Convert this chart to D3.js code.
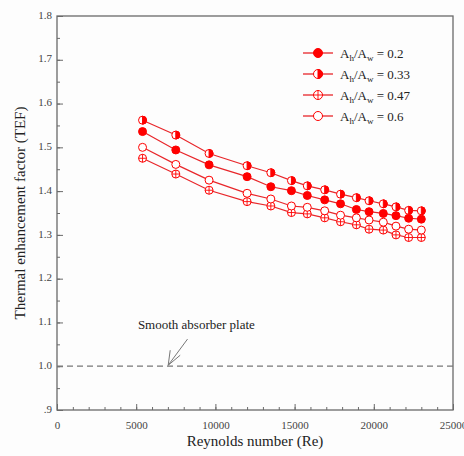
<!DOCTYPE html>
<html>
<head>
<meta charset="utf-8">
<script src="https://cdn.jsdelivr.net/npm/d3@7"></script>
<style>
  body { margin: 0; background: #fdfdfd; }
  svg { font-family: "Liberation Serif", "DejaVu Serif", serif; }
</style>
</head>
<body>
<div id="tef-chart"></div>
<script>
// data
var reynolds = [5400, 7500, 9600, 12000, 13500, 14800, 15800, 16900, 17900, 18900, 19700, 20600, 21400, 22200, 23000];
var tef02  = [1.536, 1.494, 1.460, 1.433, 1.410, 1.401, 1.390, 1.380, 1.371, 1.358, 1.353, 1.349, 1.344, 1.338, 1.336];
var tef033 = [1.562, 1.528, 1.486, 1.458, 1.442, 1.424, 1.412, 1.403, 1.393, 1.385, 1.378, 1.371, 1.364, 1.356, 1.355];
var tef047 = [1.475, 1.439, 1.402, 1.376, 1.366, 1.351, 1.348, 1.339, 1.330, 1.323, 1.313, 1.311, 1.300, 1.294, 1.294];
var tef06  = [1.500, 1.461, 1.425, 1.395, 1.382, 1.366, 1.363, 1.355, 1.345, 1.339, 1.334, 1.329, 1.320, 1.313, 1.311];
var ratios = ["0.2", "0.33", "0.47", "0.6"];
var markerKinds = ["filled", "half", "cross", "open"];
var xTicks = [0, 5000, 10000, 15000, 20000, 25000];
var yTicks = [0.9, 1.0, 1.1, 1.2, 1.3, 1.4, 1.5, 1.6, 1.7, 1.8];
var smoothTEF = 1.0;

var red = "#ff0000";
var lineRed = "#e8262a";
var axisGrey = "#6a6a6a";

var margin = { top: 16, right: 11, bottom: 46, left: 57 };
var width = 464 - margin.left - margin.right;
var height = 456 - margin.top - margin.bottom;

var svg = d3.select("#tef-chart").append("svg")
  .attr("width", 464)
  .attr("height", 456)
  .append("g")
  .attr("transform", "translate(" + margin.left + "," + margin.top + ")");

var x = d3.scaleLinear().domain([0, 25000]).range([0, width]);
var y = d3.scaleLinear().domain([0.9, 1.8]).range([height, 0]);

// minor ticks (inside)
svg.append("g")
  .attr("transform", "translate(0," + height + ")")
  .call(d3.axisBottom(x).tickValues(d3.range(0, 25001, 1000)).tickSize(-3).tickFormat(""))
  .call(function(g) { g.select(".domain").remove(); g.selectAll("line").attr("stroke", axisGrey); });
svg.append("g")
  .call(d3.axisLeft(y).tickValues(d3.range(0.9, 1.801, 0.05)).tickSize(-3).tickFormat(""))
  .call(function(g) { g.select(".domain").remove(); g.selectAll("line").attr("stroke", axisGrey); });

// major ticks + labels
svg.append("g")
  .attr("transform", "translate(0," + height + ")")
  .call(d3.axisBottom(x).tickValues(xTicks).tickSize(-6).tickPadding(11).tickFormat(d3.format("d")))
  .call(function(g) {
    g.select(".domain").remove();
    g.selectAll("line").attr("stroke", axisGrey);
    g.selectAll("text").attr("fill", "#444").style("font-size", "11px").style("font-family", "Liberation Serif");
  });

svg.append("g")
  .call(d3.axisLeft(y).tickValues(yTicks).tickSize(-6).tickPadding(5)
    .tickFormat(function(d) { return d < 1 ? ".9" : d3.format(".1f")(d); }))
  .call(function(g) {
    g.select(".domain").remove();
    g.selectAll("line").attr("stroke", axisGrey);
    g.selectAll("text").attr("fill", "#444").attr("dy", "0.2em").style("font-size", "11px").style("font-family", "Liberation Serif");
  });

// frame
svg.append("rect")
  .attr("width", width)
  .attr("height", height)
  .attr("fill", "none")
  .attr("stroke", axisGrey)
  .attr("stroke-width", 1.3);

// smooth plate reference
svg.append("line")
  .attr("x1", 0).attr("x2", width)
  .attr("y1", y(smoothTEF)).attr("y2", y(smoothTEF))
  .attr("stroke", "#777")
  .attr("stroke-width", 1.2)
  .attr("stroke-dasharray", "6,4");

svg.append("text")
  .attr("x", x(8800))
  .attr("y", y(1.086))
  .attr("text-anchor", "middle")
  .attr("fill", "#222")
  .style("font-size", "13px")
  .text("Smooth absorber plate");

var tipX = x(7020), tipY = y(smoothTEF) - 1;
svg.append("line")
  .attr("x1", x(8240)).attr("y1", y(1.062))
  .attr("x2", tipX).attr("y2", tipY)
  .attr("stroke", "#777").attr("stroke-width", 1);
svg.append("path")
  .attr("d", "M" + (tipX + 2) + "," + (tipY - 15) + " L" + tipX + "," + tipY + " L" + (tipX + 12) + "," + (tipY - 10))
  .attr("fill", "none").attr("stroke", "#777").attr("stroke-width", 1);

var series = [tef02, tef033, tef047, tef06];

function drawMarker(g, kind, cx, cy, r) {
  if (kind == "filled") {
    g.append("circle").attr("cx", cx).attr("cy", cy).attr("r", r).attr("fill", red).attr("stroke", red);
  } else if (kind == "half") {
    g.append("circle").attr("cx", cx).attr("cy", cy).attr("r", r).attr("fill", "#fff").attr("stroke", red);
    g.append("path")
      .attr("d", "M" + cx + "," + (cy - r) + " A" + r + "," + r + " 0 0,1 " + cx + "," + (cy + r) + " Z")
      .attr("fill", red).attr("stroke", red);
  } else if (kind == "cross") {
    g.append("circle").attr("cx", cx).attr("cy", cy).attr("r", r).attr("fill", "#fff").attr("stroke", red);
    g.append("path")
      .attr("d", "M" + (cx - r) + "," + cy + " H" + (cx + r) + " M" + cx + "," + (cy - r) + " V" + (cy + r))
      .attr("stroke", red).attr("stroke-width", 0.9);
  } else {
    g.append("circle").attr("cx", cx).attr("cy", cy).attr("r", r).attr("fill", "#fff").attr("stroke", red);
  }
}

var line = d3.line()
  .x(function(d) { return x(d[0]); })
  .y(function(d) { return y(d[1]); });

series.forEach(function(vals, s) {
  var pts = reynolds.map(function(re, i) { return [re, vals[i]]; });
  svg.append("path")
    .datum(pts)
    .attr("d", line)
    .attr("fill", "none")
    .attr("stroke", lineRed)
    .attr("stroke-width", 1.2);
  var g = svg.append("g");
  pts.forEach(function(p) {
    drawMarker(g, markerKinds[s], x(p[0]), y(p[1]), 4);
  });
});

// legend
var legend = svg.append("g").attr("transform", "translate(" + (303 - margin.left) + "," + (53 - margin.top) + ")");
ratios.forEach(function(r, i) {
  var ly = i * 21;
  legend.append("line")
    .attr("x1", 0).attr("x2", 30)
    .attr("y1", ly).attr("y2", ly)
    .attr("stroke", lineRed).attr("stroke-width", 1.3);
  drawMarker(legend, markerKinds[i], 15, ly, 4.5);
  var t = legend.append("text")
    .attr("x", 37)
    .attr("y", ly + 4.5)
    .attr("fill", "#222")
    .style("font-size", "13px");
  t.append("tspan").text("A");
  t.append("tspan").attr("dy", 3).style("font-size", "9px").text("h");
  t.append("tspan").attr("dy", -3).text("/A");
  t.append("tspan").attr("dy", 3).style("font-size", "9px").text("w");
  t.append("tspan").attr("dy", -3).text(" = " + r);
});

// axis titles
svg.append("text")
  .attr("x", width / 2)
  .attr("y", height + 36)
  .attr("text-anchor", "middle")
  .attr("fill", "#222")
  .style("font-size", "15px")
  .text("Reynolds number (Re)");

svg.append("text")
  .attr("transform", "rotate(-90)")
  .attr("x", -(y(1.35)))
  .attr("y", -32)
  .attr("text-anchor", "middle")
  .attr("fill", "#222")
  .style("font-size", "15px")
  .text("Thermal enhancement factor (TEF)");
</script>
</body>
</html>
